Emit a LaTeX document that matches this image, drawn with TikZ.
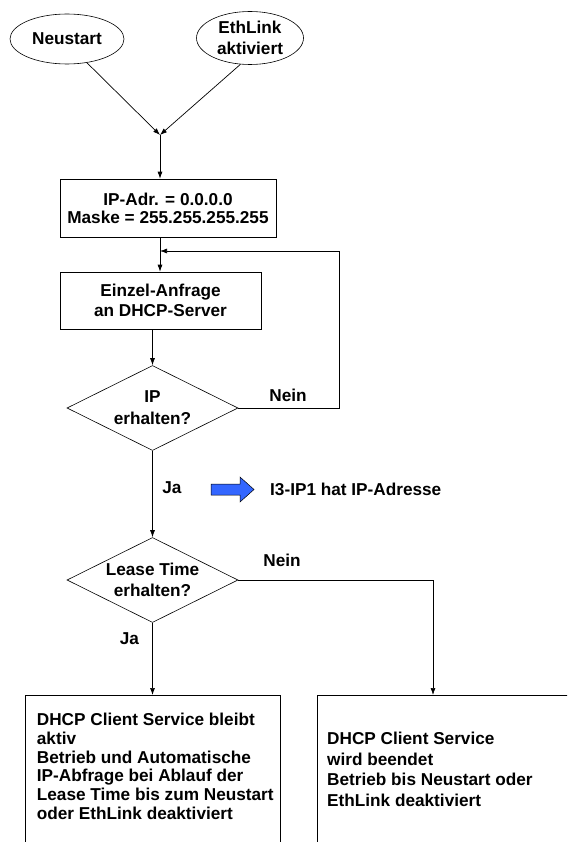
\documentclass[tikz,border=0pt]{standalone}
\usepackage{fontspec}
\setmainfont{Liberation Sans}
\usetikzlibrary{shapes.geometric,arrows.meta,positioning}
\definecolor{pfeilblau}{RGB}{51,102,255}
\newcommand{\schrift}[1]{\bfseries\fontsize{17.2}{#1}\selectfont}

\begin{document}
\begin{tikzpicture}[x=1pt,y=-1pt,>={Latex[length=7pt,width=5pt]},font=\schrift{20}]
        \tikzstyle{ereignis}=[ellipse,draw,line width=0.6pt,inner sep=0pt,align=center]
        \tikzstyle{kasten}=[rectangle,draw,line width=0.6pt,inner sep=0pt,align=center]
        \tikzstyle{frage}=[diamond,draw,line width=0.6pt,inner sep=0pt,aspect=2,align=center,minimum width=171pt,minimum height=85pt]
        \tikzstyle{fluss}=[line width=0.7pt,->]
        \tikzstyle{marke}=[inner sep=0pt]
        \path[use as bounding box,fill=white] (0,0) rectangle (567,842);
        \clip (0,0) rectangle (567,842);
        \begin{scope}
        \node[ereignis,minimum width=114pt,minimum height=50pt](neu) at (67,39){Neustart};
        \node[ereignis,minimum width=107pt,minimum height=53pt,font=\schrift{21}](eth) at (250,38){EthLink\\aktiviert};
        \coordinate (mitte) at (160,135);
        \node[kasten,minimum width=216pt,minimum height=58pt,font=\schrift{18}](ip) at (168,208){IP-Adr. = 0.0.0.0\\Maske = 255.255.255.255};
        \coordinate (rueck) at (160,251);
        \node[kasten,minimum width=201pt,minimum height=57pt](anfrage) at (160.5,300.5){Einzel-Anfrage\\an DHCP-Server};
        \node[frage,font=\schrift{22}](ipq) at (152.5,408){IP\\erhalten?};
        \coordinate (ecke) at (339,251);
        \node[marke](nein1) at (288,395){Nein};
        \node[marke](ja1) at (172,488){Ja};
        \node[marke,anchor=west](info) at (270,489){I3-IP1 hat IP-Adresse};
        \node[frage,font=\schrift{21}](lease) at (152.5,580){Lease Time\\erhalten?};
        \node[marke](nein2) at (282,560){Nein};
        \node[marke](ja2) at (129.5,639){Ja};
        \node[kasten,anchor=north,minimum width=255pt,minimum height=200pt](links) at (152.5,695){};
        \node[kasten,anchor=north west,minimum width=300pt,minimum height=200pt](rechts) at (317,695){};
        \node[marke,anchor=north west,align=left,font=\schrift{18.7}](ltext) at ([shift={(12,18)}]links.north west)
            {DHCP Client Service bleibt\\aktiv\\Betrieb und Automatische\\IP-Abfrage bei Ablauf der\\Lease Time bis zum Neustart\\oder EthLink deaktiviert};
        \node[marke,anchor=north west,align=left,font=\schrift{20.6}](rtext) at ([shift={(10,37)}]rechts.north west)
            {DHCP Client Service\\wird beendet\\Betrieb bis Neustart oder\\EthLink deaktiviert};
        \end{scope}
        % Verbindungen
        \draw[fluss] (neu.-50) -- (mitte);
        \draw[fluss] (eth.-110) -- (mitte);
        \draw[fluss] (mitte) -- (mitte |- ip.north);
        \draw[fluss] (ip.south -| mitte) -- (anfrage.north -| mitte);
        \draw[fluss] (ipq.north |- anfrage.south) -- (ipq.north);
        \draw[fluss] (ipq.east) -| (ecke) -- (rueck);
        \draw[fluss] (ipq.south) -- (lease.north);
        \draw[fluss] (lease.east) -| ([xshift=116pt]rechts.north west);
        \draw[fluss] (lease.south) -- (links.north);
        % blauer Pfeil
        \draw[line width=0.5pt,fill=pfeilblau] (211,484) -- (240,484) -- (240,477) -- (254,489.5)
            -- (240,502) -- (240,495) -- (211,495) -- cycle;
\end{tikzpicture}
\end{document}
